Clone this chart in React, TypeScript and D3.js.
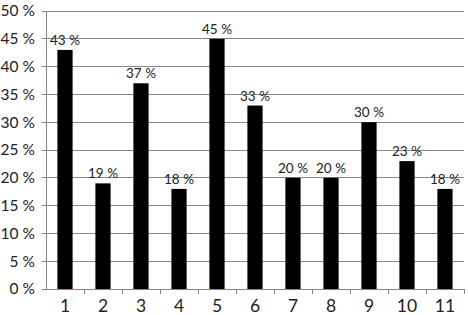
import React from "react";
import * as d3 from "d3";

const categories = ["1", "2", "3", "4", "5", "6", "7", "8", "9", "10", "11"];
const values = [43, 19, 37, 18, 45, 33, 20, 20, 30, 23, 18];
const yTicks = [0, 5, 10, 15, 20, 25, 30, 35, 40, 45, 50];

export default function App() {
  const W = 468, H = 315;
  const left = 46, right = 464, top = 11, bottom = 289;
  const x = d3.scaleBand().domain(categories).range([left, right]).paddingInner(0.6).paddingOuter(0.3);
  const xb = d3.scaleBand().domain(categories).range([left, right]);
  const y = d3.scaleLinear().domain([0, 50]).range([bottom, top]);
  const font = "Lato, 'Open Sans', sans-serif";
  const grid = "#868686";
  return (
    <svg width={W} height={H} style={{ position: "absolute", left: 0, top: 0, background: "#fff" }}>
      {yTicks.map((t) => (
        <g key={t}>
          <line x1={left - 4} x2={right} y1={y(t)} y2={y(t)} stroke={grid} strokeWidth={1} shapeRendering="crispEdges" />
          <text x={35} y={y(t)} dy="0.35em" textAnchor="end" fontSize={15.5} fontFamily={font} fill="#222">{t} %</text>
        </g>
      ))}
      <line x1={left} x2={left} y1={top} y2={bottom} stroke={grid} strokeWidth={1} shapeRendering="crispEdges" />
      {categories.map((c) => (
        <line key={"t" + c} x1={xb(c)! + xb.bandwidth()} x2={xb(c)! + xb.bandwidth()} y1={bottom} y2={bottom + 5} stroke={grid} shapeRendering="crispEdges" />
      ))}
      {categories.map((c, i) => (
        <g key={c}>
          <rect x={x(c)} y={y(values[i])} width={x.bandwidth()} height={bottom - y(values[i])} fill="#000" />
          <text x={x(c)! + x.bandwidth() / 2} y={y(values[i]) - 5} textAnchor="middle" fontSize={13.5} fontFamily={font} fill="#222">{values[i]} %</text>
          <text x={xb(c)! + xb.bandwidth() / 2} y={312} textAnchor="middle" fontSize={17.5} fontFamily={font} fill="#222">{c}</text>
        </g>
      ))}
    </svg>
  );
}
